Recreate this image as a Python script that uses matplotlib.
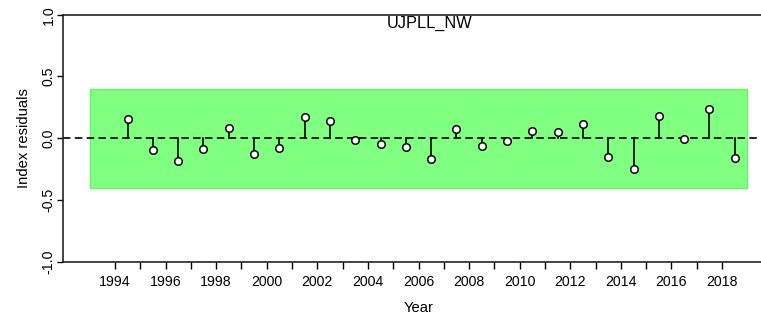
import matplotlib
matplotlib.use("Agg")
import matplotlib.pyplot as plt
from matplotlib.patches import Rectangle

plt.rcParams['font.family'] = ['Liberation Sans', 'DejaVu Sans']

years = list(range(1994, 2019))
residuals = [0.154, -0.092, -0.182, -0.087, 0.079, -0.125, -0.076, 0.173, 0.138,
             -0.014, -0.051, -0.073, -0.168, 0.073, -0.062, -0.022, 0.057, 0.054,
             0.114, -0.152, -0.249, 0.176, -0.003, 0.236, -0.160]
band_low, band_high = -0.4, 0.4
band_start, band_end = 1993, 2019
title = "UJPLL_NW"
xlabel = "Year"
ylabel = "Index residuals"
yticks = [-1.0, -0.5, 0.0, 0.5, 1.0]
ytick_labels = ["-1.0", "-0.5", "0.0", "0.5", "1.0"]

fig = plt.figure(figsize=(7.61, 3.21), dpi=100)
ax = fig.add_axes([63.3 / 761, 59.3 / 321, 710.4 / 761, 247 / 321])

ax.add_patch(Rectangle((band_start, band_low), band_end - band_start, band_high - band_low,
                       facecolor='#80ff80', edgecolor='#6ff06f', linewidth=1.0, zorder=1))
ax.axhline(0, color='black', linestyle=(0, (4.5, 2.6)), linewidth=1.2, zorder=2)

xs = [y + 0.5 for y in years]
for x, r in zip(xs, residuals):
    ax.plot([x, x], [0, r], color='black', linewidth=1.2, zorder=3)
ax.plot(xs, residuals, linestyle='none', marker='o', markersize=5.4,
        markerfacecolor='white', markeredgecolor='black', markeredgewidth=1.1, zorder=4)

ax.set_xlim(1991.96, 2020.04)
ax.set_ylim(-1, 1)
ax.set_xticks(years)
ax.set_xticklabels([str(y) if y % 2 == 0 else "" for y in years], fontsize=10.2)
ax.set_yticks(yticks)
ax.set_yticklabels(ytick_labels, rotation=90, va='center', fontsize=10.2)
ax.tick_params(axis='x', length=5, width=1, pad=4.5)
ax.tick_params(axis='y', length=4.5, width=1, pad=1)

for s in ['top', 'left', 'bottom', 'right']:
    ax.spines[s].set_linewidth(1.2)
    ax.spines[s].set_color('#222222')

ax.text(2006.45, 0.99, title, ha='center', va='top', fontsize=11.8)
ax.set_xlabel(xlabel, fontsize=10.6, labelpad=8.5)
ax.set_ylabel(ylabel, fontsize=10.6, labelpad=7.5)

fig.savefig("out.png", dpi=100)
